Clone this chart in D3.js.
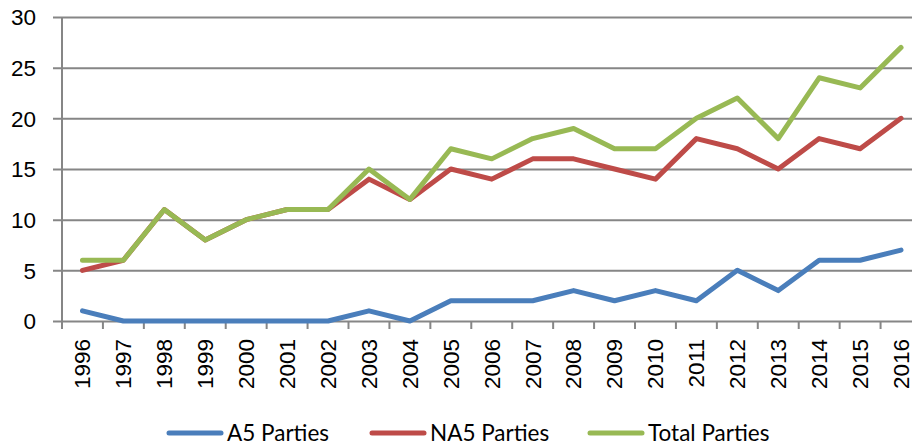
<!DOCTYPE html>
<html>
<head>
<meta charset="utf-8">
<script src="https://cdn.jsdelivr.net/npm/d3@7"></script>
<style>
  body { margin: 0; background: #fff; }
  svg { display: block; font-family: Lato, "Open Sans", sans-serif; }
  .axis text { fill: #000; font-size: 22.5px; }
</style>
</head>
<body>
<div id="chart"></div>
<script>
// Parties per year
const years = ['1996', '1997', '1998', '1999', '2000', '2001', '2002', '2003', '2004', '2005', '2006',
  '2007', '2008', '2009', '2010', '2011', '2012', '2013', '2014', '2015', '2016']
const a5 = [1, 0, 0, 0, 0, 0, 0, 1, 0, 2, 2, 2, 3, 2, 3, 2, 5, 3, 6, 6, 7]
const na5 = [5, 6, 11, 8, 10, 11, 11, 14, 12, 15, 14, 16, 16, 15, 14, 18, 17, 15, 18, 17, 20]
const total = [6, 6, 11, 8, 10, 11, 11, 15, 12, 17, 16, 18, 19, 17, 17, 20, 22, 18, 24, 23, 27]
const seriesNames = ['A5 Parties', 'NA5 Parties', 'Total Parties']
const yTicks = [0, 5, 10, 15, 20, 25, 30]

const colors = ['#4a7ebb', '#be4b48', '#98b954']
const width = 912
const height = 445

const svg = d3.select('#chart')
  .append('svg')
  .attr('width', width)
  .attr('height', height)

// plot area runs a little past the right edge, like the cropped original
const xScale = d3.scaleBand()
  .domain(years)
  .range([62, 921.5])

const yScale = d3.scaleLinear()
  .domain([0, 30])
  .range([321, 17])

// gridlines + y axis
const yAxis = d3.axisLeft(yScale)
  .tickValues(yTicks)
  .tickSize(9)
  .tickPadding(17)

const yG = svg.append('g')
  .attr('class', 'axis')
  .attr('transform', 'translate(62, 0)')
  .call(yAxis)
yG.select('.domain').remove()
yG.selectAll('.tick line')
  .attr('x2', width)
  .attr('x1', -9)
  .attr('stroke', '#868686')
  .attr('stroke-width', 2)
yG.selectAll('.tick text').attr('dy', '0.35em')

// vertical axis line
svg.append('line')
  .attr('x1', 62).attr('x2', 62)
  .attr('y1', 17).attr('y2', 329)
  .attr('stroke', '#868686')
  .attr('stroke-width', 2)

// x axis with band boundary ticks
const xAxis = d3.axisBottom(xScale).tickSize(0).tickPadding(0)
const xG = svg.append('g')
  .attr('class', 'axis')
  .attr('transform', 'translate(0, 321)')
  .call(xAxis)
xG.select('.domain').remove()
xG.selectAll('.tick text')
  .attr('transform', 'rotate(-90)')
  .attr('text-anchor', 'end')
  .attr('x', -18)
  .attr('y', 0)
  .attr('dy', '0.35em')

xG.selectAll('.bound')
  .data(years)
  .enter()
  .append('line')
  .attr('class', 'bound')
  .attr('x1', d => xScale(d))
  .attr('x2', d => xScale(d))
  .attr('y1', 0)
  .attr('y2', 8)
  .attr('stroke', '#868686')
  .attr('stroke-width', 2)

// lines
const series = [a5, na5, total]
const line = d3.line()
  .x((d, i) => xScale(years[i]) + xScale.bandwidth() / 2)
  .y(d => yScale(d))

svg.selectAll('.series')
  .data(series)
  .enter()
  .append('path')
  .attr('class', 'series')
  .attr('d', d => line(d))
  .attr('fill', 'none')
  .attr('stroke', (d, i) => colors[i])
  .attr('stroke-width', 5)
  .attr('stroke-linejoin', 'round')
  .attr('stroke-linecap', 'round')

// legend
const legendX = [167, 370, 588]
const legend = svg.append('g').attr('class', 'legend')
const item = legend.selectAll('g')
  .data(seriesNames)
  .enter()
  .append('g')
  .attr('transform', (d, i) => `translate(${legendX[i]}, 433)`)

item.append('line')
  .attr('x1', 2).attr('x2', 54)
  .attr('stroke', (d, i) => colors[i])
  .attr('stroke-width', 5)
  .attr('stroke-linecap', 'round')

item.append('text')
  .attr('x', 60)
  .attr('dy', '0.35em')
  .attr('font-size', 22.5)
  .text(d => d)
</script>
</body>
</html>
